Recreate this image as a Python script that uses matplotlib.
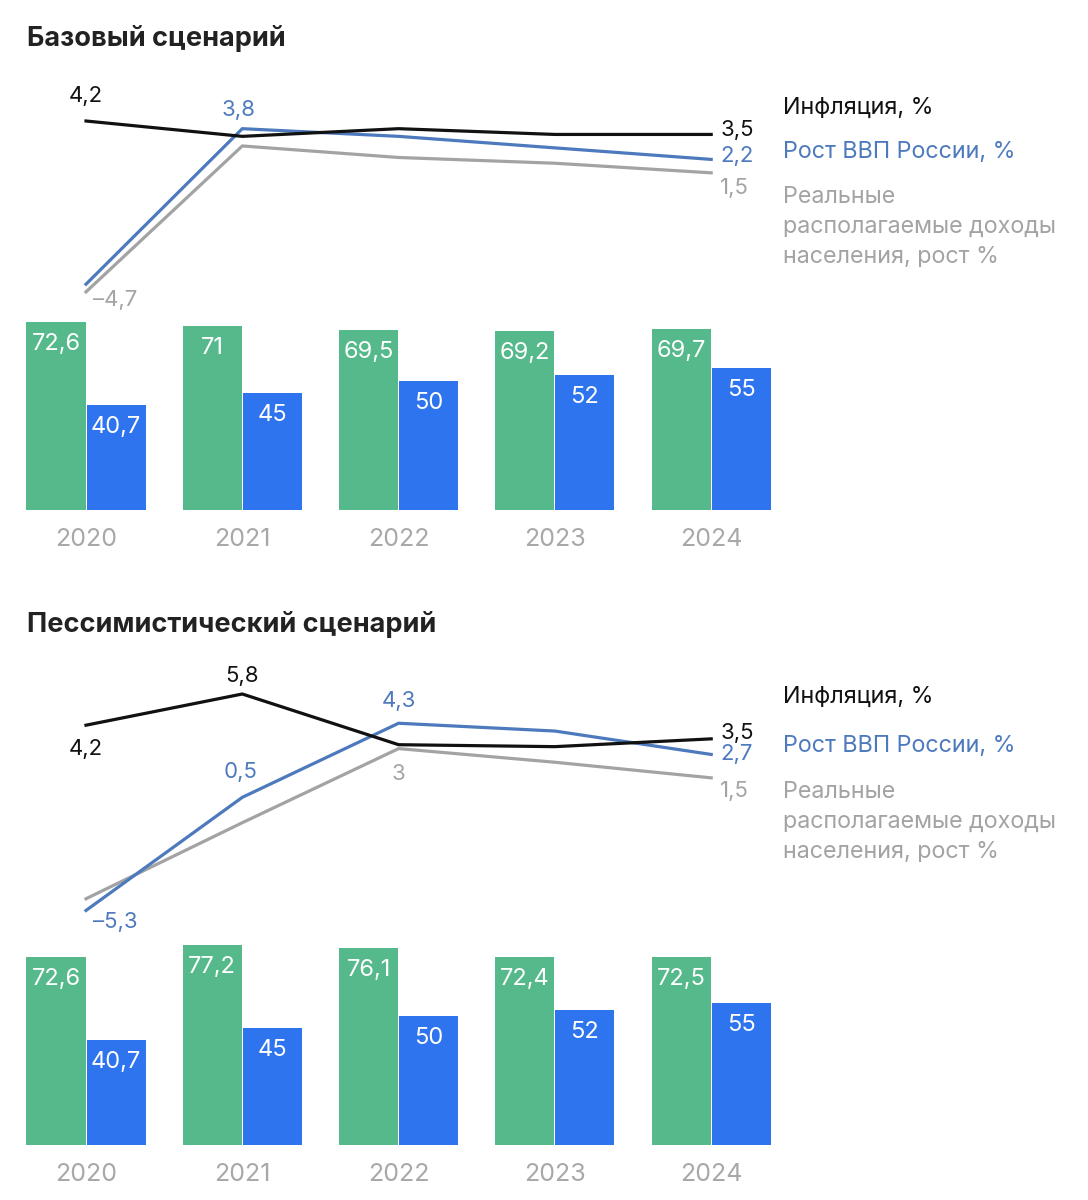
import numpy as np
import matplotlib.pyplot as plt

plt.rcParams['font.family'] = ['Inter', 'DejaVu Sans']

years = ['2020', '2021', '2022', '2023', '2024']

# Базовый сценарий
base_infl = [4.2, 3.4, 3.8, 3.5, 3.5]
base_gdp = [-4.3, 3.8, 3.4, 2.8, 2.2]
base_income = [-4.7, 2.9, 2.3, 2.0, 1.5]
base_green = [72.6, 71, 69.5, 69.2, 69.7]
base_blue = [40.7, 45, 50, 52, 55]

# Пессимистический сценарий
pess_infl = [4.2, 5.8, 3.2, 3.1, 3.5]
pess_gdp = [-5.3, 0.5, 4.3, 3.9, 2.7]
pess_income = [-4.7, -0.8, 3.0, 2.3, 1.5]
pess_green = [72.6, 77.2, 76.1, 72.4, 72.5]
pess_blue = [40.7, 45, 50, 52, 55]

legend_lines = ['Инфляция, %', 'Рост ВВП России, %',
                'Реальные', 'располагаемые доходы', 'населения, рост %']

C_INFL = '#111111'
C_GDP = '#4d79bd'
C_INC = '#a3a3a3'
C_GREEN = '#55b98b'
C_BLUE = '#2f74ef'
C_YEAR = '#a8a8a8'

W, H = 1088, 1200
fig = plt.figure(figsize=(W / 100, H / 100), dpi=100)

X0, DX = 86, 156.3   # pixel position of 2020 and step between years
xlim = (-X0 / DX, (W - X0) / DX)
x = np.arange(len(years))


def px_axes(top, bottom):
    return fig.add_axes([0, 1 - bottom / H, 1, (bottom - top) / H])


def clean(ax):
    for s in ax.spines.values():
        s.set_visible(False)
    ax.set_yticks([])
    ax.set_xlim(*xlim)
    ax.patch.set_alpha(0)


def fmt(v):
    s = ('%g' % v).replace('.', ',')
    return s.replace('-', '\u2013')


def label(ax, i, v, color, dx, dy, ha='center'):
    # dx, dy in pixels (dy up)
    ax.annotate(fmt(v), (i, v), xytext=(dx * 0.72, dy * 0.72),
                textcoords='offset points', ha=ha, va='center',
                color=color, fontsize=16, annotation_clip=False)


def panel(title, title_y, line_top, line_bot, ref_v, ref_px, scale,
          infl, gdp, inc, green, blue, bar_base, labels, ends, leg_y):
    fig.text(27 / W, 1 - title_y / H, title, fontsize=19.5, fontweight='bold',
             color='#222222', va='center', ha='left')

    ax = px_axes(line_top, line_bot)
    clean(ax)
    ax.set_xticks([])
    ax.set_ylim(ref_v - (line_bot - ref_px) / scale,
                ref_v + (ref_px - line_top) / scale)
    ax.plot(x, inc, color=C_INC, lw=2.3, solid_joinstyle='miter')
    ax.plot(x, gdp, color=C_GDP, lw=2.3, solid_joinstyle='miter')
    ax.plot(x, infl, color=C_INFL, lw=2.3, solid_joinstyle='miter')

    series = {'infl': (infl, C_INFL), 'gdp': (gdp, C_GDP), 'inc': (inc, C_INC)}
    for key, i, dx, dy in labels:
        vals, col = series[key]
        label(ax, i, vals[i], col, dx, dy)
    for key, dy in ends:
        vals, col = series[key]
        label(ax, 4, vals[4], col, 9, dy, ha='left')

    cols = [C_INFL, C_GDP, C_INC, C_INC, C_INC]
    for txt, y, col in zip(legend_lines, leg_y, cols):
        fig.text(783 / W, 1 - y / H, txt, fontsize=16.8, color=col,
                 va='center', ha='left')

    bx = px_axes(bar_base - 240, bar_base)
    clean(bx)
    bx.set_ylim(0, 240 / 2.59)
    bw = 59 / DX
    off = 30 / DX
    gb = bx.bar(x - off, green, width=bw, color=C_GREEN)
    bb = bx.bar(x + off, blue, width=bw, color=C_BLUE)
    for bars, vals in ((gb, green), (bb, blue)):
        for r, v in zip(bars, vals):
            bx.annotate(fmt(v), (r.get_x() + r.get_width() / 2, v),
                        xytext=(0, -22 * 0.72), textcoords='offset points',
                        ha='center', va='center', color='white', fontsize=17)
    bx.set_xticks(x, years)
    bx.tick_params(axis='x', length=0, pad=13, labelsize=18, labelcolor=C_YEAR)


panel('Базовый сценарий', 39, 60, 320, 4.2, 121, 19.2,
      base_infl, base_gdp, base_income, base_green, base_blue, 510,
      [('infl', 0, 0, 25), ('gdp', 1, -4, 19), ('inc', 0, 29, -8)],
      [('infl', 4), ('gdp', 3), ('inc', -15)],
      [108, 152, 197, 227, 257])

panel('Пессимистический сценарий', 624, 640, 940, 5.8, 694, 19.5,
      pess_infl, pess_gdp, pess_income, pess_green, pess_blue, 1145,
      [('infl', 0, 0, -24), ('infl', 1, 0, 18), ('gdp', 2, 0, 22),
       ('gdp', 1, -2, 25), ('inc', 2, 0, -25), ('gdp', 0, 29, -12)],
      [('infl', 6), ('gdp', 0), ('inc', -13)],
      [697, 746, 792, 822, 852])

fig.savefig('out.png', dpi=100, facecolor='white')
